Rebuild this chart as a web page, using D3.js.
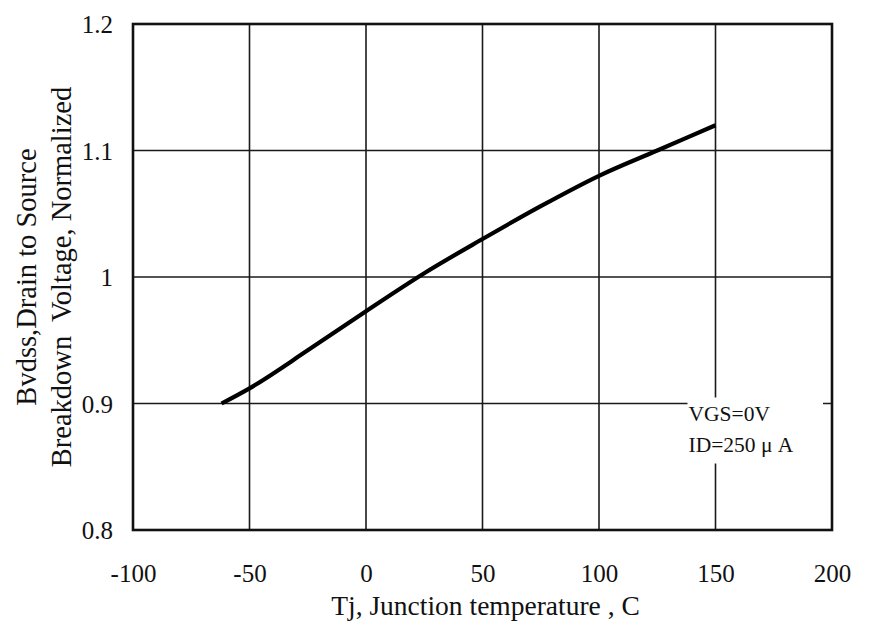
<!DOCTYPE html>
<html>
<head>
<meta charset="utf-8">
<script src="https://cdn.jsdelivr.net/npm/d3@7"></script>
<style>
  html, body { margin: 0; padding: 0; background: #fff; }
  svg { display: block; }
  text { font-family: "Liberation Serif", "Times New Roman", serif; fill: #111; }
</style>
</head>
<body>
<svg id="chart" width="869" height="632"></svg>
<script>
// Data
const tempC = [-62, -50, -25, 0, 25, 50, 75, 100, 125, 150];
const bvdssNorm = [0.900, 0.912, 0.942, 0.973, 1.003, 1.030, 1.056, 1.080, 1.100, 1.120];
const xTicks = [-100, -50, 0, 50, 100, 150, 200];
const xTickLabels = ["-100", "-50", "0", "50", "100", "150", "200"];
const yTicks = [0.8, 0.9, 1.0, 1.1, 1.2];
const yTickLabels = ["0.8", "0.9", "1", "1.1", "1.2"];
const xTitle = "Tj, Junction temperature , C";
const yTitleLines = ["Bvdss,Drain to Source", "Breakdown  Voltage, Normalized"];
const noteLines = ["VGS=0V", "ID=250 μ A"];

const svg = d3.select("#chart");
const m = { left: 133, top: 24, right: 869 - 832, bottom: 632 - 530 };
const W = 869 - m.left - m.right, H = 632 - m.top - m.bottom;

const x = d3.scaleLinear().domain([-100, 200]).range([m.left, m.left + W]);
const y = d3.scaleLinear().domain([0.8, 1.2]).range([m.top + H, m.top]);

svg.append("rect").attr("x", 0).attr("y", 0).attr("width", 869).attr("height", 632).attr("fill", "#fff");

// grid
const grid = svg.append("g").attr("stroke", "#1a1a1a").attr("stroke-width", 1.6);
grid.selectAll("line.v").data(xTicks.slice(1, -1)).join("line")
  .attr("x1", d => x(d)).attr("x2", d => x(d))
  .attr("y1", y(0.8)).attr("y2", y(1.2));
grid.selectAll("line.h").data(yTicks.slice(1, -1)).join("line")
  .attr("x1", x(-100)).attr("x2", x(200))
  .attr("y1", d => y(d)).attr("y2", d => y(d));

// annotation box (covers grid)
const noteX = x(150) - 28, noteY = y(0.9) - 6;
svg.append("rect").attr("x", noteX).attr("y", noteY)
  .attr("width", x(200) - 9 - noteX).attr("height", 66).attr("fill", "#fff");
svg.append("g").selectAll("text").data(noteLines).join("text")
  .attr("x", noteX + 1).attr("y", (d, i) => noteY + 23 + i * 31)
  .attr("font-size", 21.5).style("white-space", "pre").text(d => d);

// frame
svg.append("rect").attr("x", m.left).attr("y", m.top).attr("width", W).attr("height", H)
  .attr("fill", "none").attr("stroke", "#111").attr("stroke-width", 2.6);

// curve
const line = d3.line().x((d, i) => x(tempC[i])).y(d => y(d)).curve(d3.curveMonotoneX);
svg.append("path").datum(bvdssNorm).attr("d", line)
  .attr("fill", "none").attr("stroke", "#000").attr("stroke-width", 4.2).attr("stroke-linecap", "butt");

// axes (labels only)
const xAxis = d3.axisBottom(x).tickValues(xTicks).tickSize(0).tickPadding(0)
  .tickFormat((d, i) => xTickLabels[i]);
const gx = svg.append("g").attr("transform", `translate(0,${y(0.8)})`).call(xAxis);
gx.select(".domain").remove();
gx.selectAll("text").attr("font-size", 25).attr("dy", null).attr("y", 52).style("font-family", "Liberation Serif");

const yAxis = d3.axisLeft(y).tickValues(yTicks).tickSize(0).tickPadding(0)
  .tickFormat((d, i) => yTickLabels[i]);
const gy = svg.append("g").attr("transform", `translate(${x(-100)},0)`).call(yAxis);
gy.select(".domain").remove();
gy.selectAll("text").attr("font-size", 25).attr("x", -20).attr("dy", "0.35em").style("font-family", "Liberation Serif");

// titles
svg.append("text").attr("x", m.left + W / 2 + 3).attr("y", 615)
  .attr("text-anchor", "middle").attr("font-size", 27.5).text(xTitle);

const yt = svg.append("g").attr("transform", `translate(0,${y(1.0)}) rotate(-90)`);
yt.selectAll("text").data(yTitleLines).join("text")
  .attr("x", 0).attr("y", (d, i) => 36 + i * 35)
  .attr("text-anchor", "middle").attr("font-size", 28.5).style("white-space", "pre")
  .text(d => d);
</script>
</body>
</html>
